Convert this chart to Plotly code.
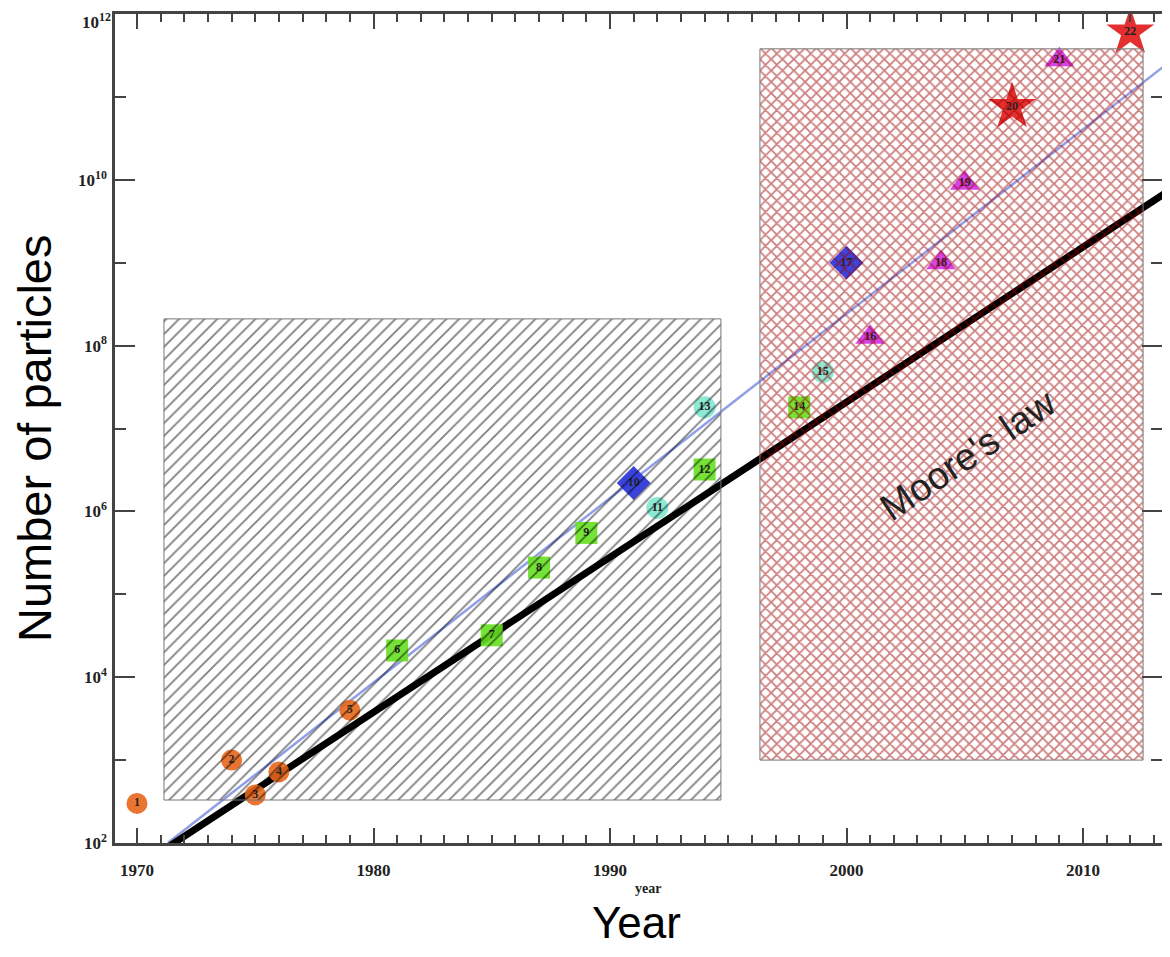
import plotly.graph_objects as go

# ---------------- data ----------------
point_labels = [str(i) for i in range(1, 23)]
years = [1970, 1974, 1975, 1976, 1979, 1981, 1985, 1987, 1989, 1991, 1992,
         1994, 1994, 1998, 1999, 2001, 2000, 2004, 2005, 2007, 2009, 2012]
particles = [3.0e2, 1.0e3, 3.8e2, 7.2e2, 4.0e3, 2.1e4, 3.2e4, 2.1e5, 5.5e5,
             2.2e6, 1.1e6, 3.2e6, 1.8e7, 1.8e7, 4.8e7, 1.26e8, 1.0e9, 1.0e9,
             9.1e9, 7.6e10, 2.8e11, 6.0e11]
groups = ["A", "A", "A", "A", "A", "B", "B", "B", "B", "C", "D",
          "B", "D", "B", "D", "E", "C", "E", "E", "F", "E", "F"]

# fitted trend (blue) and Moore's law (black) end points
fit_years = [1971.3, 2013.7]
fit_values = [1.0e2, 2.7e11]
moore_years = [1971.4, 2013.7]
moore_values = [9.3e1, 7.6e9]

# hatched regions
left_box_x = [1971.14, 1994.69]
left_box_y = [3.3e2, 2.1e8]
right_box_x = [1996.34, 2012.54]
right_box_y = [1.0e3, 3.8e11]

x_ticks = [1970, 1980, 1990, 2000, 2010]
y_ticks = [1e2, 1e4, 1e6, 1e8, 1e10, 1e12]
y_ticktext = ["10<sup>2</sup>", "10<sup>4</sup>", "10<sup>6</sup>",
              "10<sup>8</sup>", "10<sup>10</sup>", "10<sup>12</sup>"]
y_minor = [1e3, 1e5, 1e7, 1e9, 1e11]
x_minor = list(range(1970, 2014))

# ---------------- styles ----------------
group_style = {
    "A": dict(symbol="circle", color="#E8661A", size=21),
    "B": dict(symbol="square", color="#66E020", size=22),
    "C": dict(symbol="diamond", color="#2530D8", size=26),
    "D": dict(symbol="circle", color="#80E8D0", size=22),
    "E": dict(symbol="triangle-up", color="#D030E8", size=26),
    "F": dict(symbol="star", color="#E01818", size=36),
}

fig = go.Figure()

# trend lines
fig.add_trace(go.Scatter(x=fit_years, y=fit_values, mode="lines",
                         line=dict(color="#8FA0E8", width=2.5),
                         showlegend=False, hoverinfo="skip"))
fig.add_trace(go.Scatter(x=moore_years, y=moore_values, mode="lines",
                         line=dict(color="black", width=7),
                         showlegend=False, hoverinfo="skip"))

# markers by group
for g, st in group_style.items():
    idx = [i for i, gg in enumerate(groups) if gg == g]
    fig.add_trace(go.Scatter(
        x=[years[i] for i in idx], y=[particles[i] for i in idx],
        text=[point_labels[i] for i in idx],
        mode="markers+text", textposition="middle center",
        textfont=dict(family="Liberation Serif", size=12, color="#222", weight="bold"),
        marker=dict(symbol=st["symbol"], color=st["color"], size=st["size"],
                    opacity=0.9, line=dict(width=0)),
        showlegend=False))

# hatched rectangles
def box(xr, yr, shape, fg, size, sol):
    return go.Scatter(
        x=[xr[0], xr[1], xr[1], xr[0], xr[0]],
        y=[yr[0], yr[0], yr[1], yr[1], yr[0]],
        mode="lines", fill="toself",
        fillcolor="rgba(0,0,0,0)",
        fillpattern=dict(shape=shape, fgcolor=fg, bgcolor="rgba(0,0,0,0)",
                         size=size, solidity=sol),
        line=dict(color="#777777", width=1),
        showlegend=False, hoverinfo="skip")

fig.add_trace(box(left_box_x, left_box_y, "/", "#000000", 9, 0.2))
fig.add_trace(box(right_box_x, right_box_y, "x", "#9B0000", 8, 0.4))

axis_font = dict(family="Liberation Serif", size=17, color="#222", weight="bold")

# page offset: the html body has an 8 px margin; keep figure inside viewport
OFF = 8
W, H = 1170 - 2 * OFF, 957 - 2 * OFF
L, R, T = 115 - OFF, 0, 14 - OFF
B = H - T - 829
pw, ph = W - L - R, H - T - B
px_per_year = 23.65
x_end = 1970 + (1162 - 137) / px_per_year

# the top label is drawn as an annotation a little lower so it stays on the page
shown_ticktext = y_ticktext[:-1] + [""]

fig.update_xaxes(
    range=[1969.07, x_end], tickvals=x_ticks, ticktext=[str(v) for v in x_ticks],
    ticks="inside", ticklen=15, tickwidth=2, tickcolor="#444",
    showline=True, linecolor="#444", linewidth=2.5, mirror="ticks",
    showgrid=False, zeroline=False, tickfont=axis_font, ticklabelstandoff=10,
    automargin=False, ticklabeloverflow="allow",
    minor=dict(tickvals=x_minor, ticks="inside", ticklen=8, tickwidth=1.5,
               tickcolor="#444", showgrid=False))
fig.update_yaxes(
    type="log", range=[2, 12], tickvals=y_ticks, ticktext=shown_ticktext,
    ticks="inside", ticklen=20, tickwidth=2, tickcolor="#444",
    showline=True, linecolor="#444", linewidth=2.5, mirror="ticks",
    showgrid=False, zeroline=False, tickfont=axis_font, ticklabelstandoff=2,
    automargin=False, ticklabeloverflow="allow",
    minor=dict(tickvals=y_minor, ticks="inside", ticklen=11, tickwidth=1.5,
               tickcolor="#444", showgrid=False))

fig.add_annotation(text="Moore's law", x=2005.14, y=6.68, xref="x", yref="y",
                   showarrow=False, textangle=-34,
                   font=dict(family="Liberation Sans", size=38, color="#222"))


def page_ann(text, px, py, font, angle=0, xanchor="center"):
    fx, fy = px - OFF, py - OFF
    fig.add_annotation(text=text, x=(fx - L) / pw, y=(H - fy - B) / ph,
                       xref="paper", yref="paper", showarrow=False,
                       textangle=angle, xanchor=xanchor, yanchor="middle",
                       font=font)


page_ann(y_ticktext[-1], 113, 21, axis_font, xanchor="right")
page_ann("Number of particles", 34, 438,
         dict(family="Liberation Sans", size=47, color="black"), -90)
page_ann("Year", 636, 922, dict(family="Liberation Sans", size=44, color="black"))
page_ann("year", 648, 888,
         dict(family="Liberation Serif", size=14, color="#222", weight="bold"))

fig.update_layout(width=W, height=H, margin=dict(l=L, r=R, t=T, b=B),
                  plot_bgcolor="white", paper_bgcolor="white")

fig.write_html("out.html")
